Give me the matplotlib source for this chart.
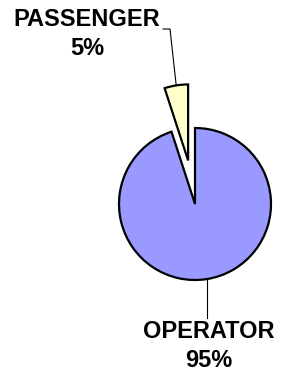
import numpy as np
import matplotlib
matplotlib.use("Agg")
import matplotlib.pyplot as plt

# data
labels = ["PASSENGER", "OPERATOR"]
shares = [5, 95]
colors = ["#FFFFCC", "#9999FF"]
explode_frac = [0.58, 0.0]

W, H = 281, 373
fig = plt.figure(figsize=(W / 100, H / 100), dpi=100)
ax = fig.add_axes([0, 0, 1, 1])

cx, cy, r = 195, H - 204, 76
# matplotlib's explode is in data units, so scale by the radius
wedges, _ = ax.pie(shares, colors=colors, explode=[e * r for e in explode_frac],
                   startangle=90, counterclock=True, radius=r, center=(cx, cy),
                   wedgeprops=dict(edgecolor="black", linewidth=1.6))
ax.set_xlim(0, W)
ax.set_ylim(0, H)
ax.set_aspect("equal")
ax.axis("off")

font = dict(family=["Liberation Sans", "DejaVu Sans"], fontsize=17,
            fontweight="bold", ha="center", va="center", linespacing=1.3)

# leader lines from each wedge's mid-angle on the rim
def rim_point(w):
    mid = np.deg2rad((w.theta1 + w.theta2) / 2)
    x0, y0 = w.center
    return x0 + w.r * np.cos(mid), y0 + w.r * np.sin(mid)

px, py = rim_point(wedges[0])
ax.plot([px, 170, 163], [py, H - 29, H - 29], color="black", lw=0.8)
ax.text(87, H - 34, f"{labels[0]}\n{shares[0]}%", **font)

ox, oy = rim_point(wedges[1])
ax.plot([ox, ox], [oy, H - 318], color="black", lw=0.8)
ax.text(209, H - 346, f"{labels[1]}\n{shares[1]}%", **font)

fig.savefig("out.png", dpi=100)
